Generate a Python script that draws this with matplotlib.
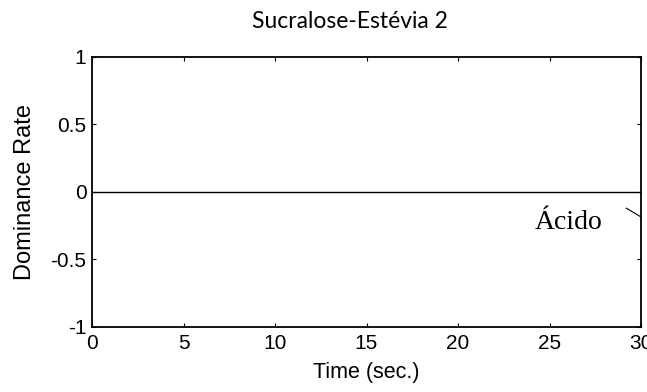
import numpy as np
import matplotlib.pyplot as plt

# dominance curve (flat at zero for the whole trial)
time = [0, 30]
rate = [0, 0]

# label for the attribute and its leader line
label_text = 'Ácido'
label_pos = (24.2, -0.225)
leader_x = [29.2, 30.0]
leader_y = [-0.12, -0.185]

xticks = [0, 5, 10, 15, 20, 25, 30]
yticks = [-1, -0.5, 0, 0.5, 1]

fig = plt.figure(figsize=(6.47, 3.92), dpi=100)
ax = fig.add_axes([92/647, 1 - 327/392, (641-92)/647, (327-57)/392])

ax.plot(time, rate, color='black', lw=1.0)
ax.plot(leader_x, leader_y, color='black', lw=0.8)
ax.text(label_pos[0], label_pos[1], label_text, family='Liberation Serif',
        fontsize=20, va='center', ha='left')

ax.set_xlim(0, 30)
ax.set_ylim(-1, 1)
ax.set_xticks(xticks)
ax.set_yticks(yticks)
ax.set_xticklabels([str(t) for t in xticks])
ax.set_yticklabels(['-1', '-0.5', '0', '0.5', '1'])
ax.tick_params(direction='in', length=3, width=0.8, top=True, right=True,
               labelsize=15)
ax.tick_params(axis='x', pad=5)
ax.tick_params(axis='y', pad=4)
for lbl in ax.get_xticklabels() + ax.get_yticklabels():
    lbl.set_family('Liberation Sans')
for s in ax.spines.values():
    s.set_linewidth(1.3)

ax.set_xlabel('Time (sec.)', family='Liberation Sans', fontsize=15.5)
ax.xaxis.set_label_coords(0.5, -0.17)
ax.xaxis.label.set_va('center')
ax.set_ylabel('Dominance Rate', family='Liberation Sans', fontsize=17)
ax.yaxis.set_label_coords(-0.122, 0.5)
ax.yaxis.label.set_va('center')

fig.text(350/647, 1 - 22/392, 'Sucralose-Estévia 2', family='Lato',
         fontsize=16.5, ha='center', va='center')

fig.savefig('out.png', dpi=100)
